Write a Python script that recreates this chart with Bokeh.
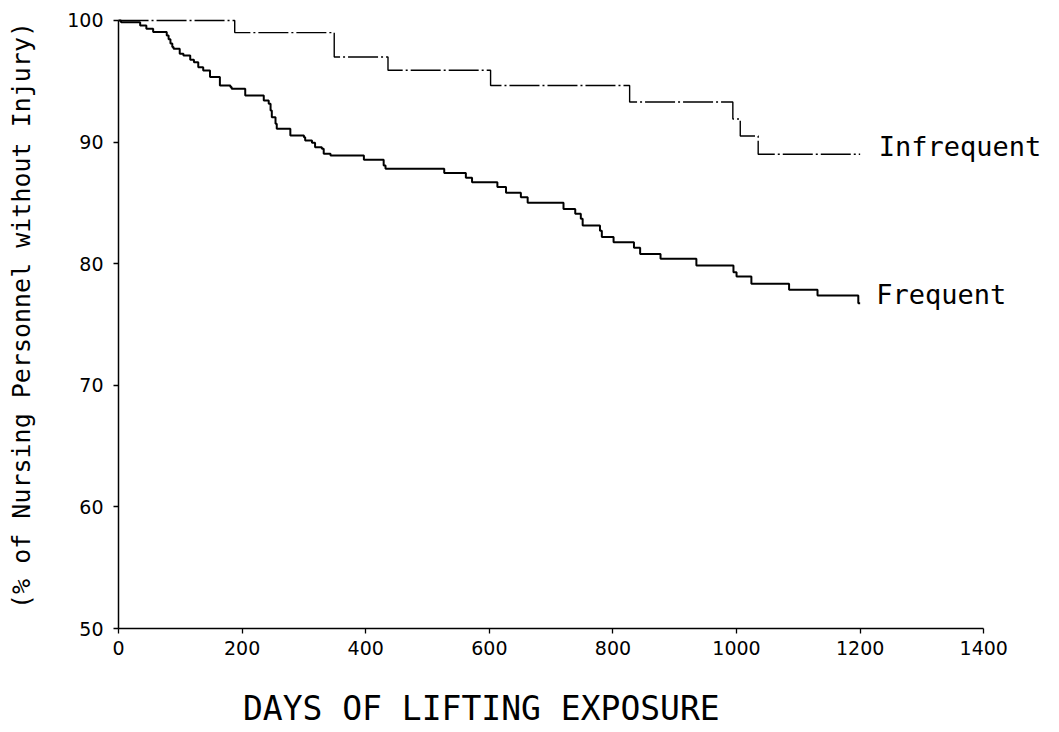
import math
from bokeh.plotting import figure
from bokeh.models import Range1d, FixedTicker, ColumnDataSource, Label
from bokeh.core.properties import value
from bokeh.embed import file_html
from bokeh.resources import INLINE

# ---- data ----
frequent_days = [0, 4, 35, 45, 56, 78, 81, 84, 87, 89, 99, 105, 116, 122, 129,
                 137, 148, 164, 181, 183, 205, 235, 243, 246, 248, 254, 256, 278,
                 300, 302, 313, 318, 329, 332, 343, 397, 429, 432, 527, 562, 572,
                 613, 627, 651, 662, 720, 739, 748, 751, 779, 782, 801, 834, 844,
                 877, 935, 995, 1000, 1024, 1085, 1131, 1197, 1200]
frequent_pct = [100, 99.86, 99.59, 99.31, 99.04, 98.77, 98.45, 98.1, 97.81, 97.67,
                97.26, 97.12, 96.77, 96.57, 96.16, 95.89, 95.34, 94.65, 94.52, 94.38,
                93.83, 93.42, 93.15, 92.6, 92.05, 91.5, 91.09, 90.54, 90.4, 90.13,
                89.95, 89.58, 89.45, 89.04, 88.9, 88.54, 88.08, 87.8, 87.45, 87.06,
                86.7, 86.3, 85.83, 85.47, 85.0, 84.5, 84.1, 83.7, 83.14, 82.7,
                82.2, 81.77, 81.3, 80.8, 80.4, 79.85, 79.3, 78.95, 78.35, 77.85,
                77.39, 76.75, 76.75]

infrequent_days = [0, 188, 349, 436, 602, 827, 994, 1006, 1035, 1200]
infrequent_pct = [100, 99.0, 97.0, 95.9, 94.65, 93.3, 91.9, 90.5, 89.0, 89.0]

series_names = ["Infrequent", "Frequent"]
label_x = [1230, 1226]
label_y = [89.64, 77.47]

x_ticks = [0, 200, 400, 600, 800, 1000, 1200, 1400]
y_ticks = [50, 60, 70, 80, 90, 100]

x_title = "DAYS OF LIFTING EXPOSURE"
y_title = "(% of Nursing Personnel without Injury)"

# ---- figure: the frame covers the whole canvas, axes sit at fixed data locations ----
p = figure(width=1050, height=732,
           x_range=Range1d(-191, 1508), y_range=Range1d(41.45, 101.64),
           output_backend="svg", toolbar_location=None,
           min_border_left=0, min_border_right=0,
           min_border_top=0, min_border_bottom=0)
p.grid.visible = False
p.outline_line_color = None
p.background_fill_color = "white"
p.border_fill_color = "white"

p.step(infrequent_days, infrequent_pct, mode="after", line_color="black",
       line_width=1.4, line_dash="30 3 2 3")
p.step(frequent_days, frequent_pct, mode="after", line_color="black",
       line_width=2.0)

src = ColumnDataSource(dict(x=label_x, y=label_y, t=series_names))
p.text(x="x", y="y", text="t", source=src, text_baseline="middle",
       text_align="left", text_font=value("DejaVu Sans Mono"),
       text_font_size="27px", text_color="black")

for ax, ticks in ((p.xaxis[0], x_ticks), (p.yaxis[0], y_ticks)):
    ax.ticker = FixedTicker(ticks=ticks)
    ax.bounds = (ticks[0], ticks[-1])
    ax.axis_line_color = "black"
    ax.axis_line_width = 1.5
    ax.major_tick_line_color = "black"
    ax.major_tick_line_width = 1.3
    ax.major_tick_out = 5
    ax.major_tick_in = 0
    ax.minor_tick_line_color = None
    ax.major_label_text_font = "DejaVu Sans"
    ax.major_label_text_font_size = "19px"
    ax.major_label_text_color = "black"

p.xaxis[0].fixed_location = y_ticks[0]
p.yaxis[0].fixed_location = x_ticks[0]
p.xaxis[0].major_label_standoff = 7
p.yaxis[0].major_label_standoff = 10

# axis titles
p.add_layout(Label(x=587, y=43.4, x_units="data", y_units="data",
                   text=x_title, text_align="center",
                   text_baseline="middle",
                   text_font="DejaVu Sans Mono", text_font_size="33px",
                   text_font_style="normal", text_color="black"))
p.add_layout(Label(x=-157, y=75.74, x_units="data", y_units="data",
                   text=y_title, text_align="center", text_baseline="middle",
                   angle=math.pi / 2,
                   text_font="DejaVu Sans Mono", text_font_size="25px",
                   text_font_style="normal", text_color="black"))

open("out.html", "w").write(file_html(p, INLINE))
